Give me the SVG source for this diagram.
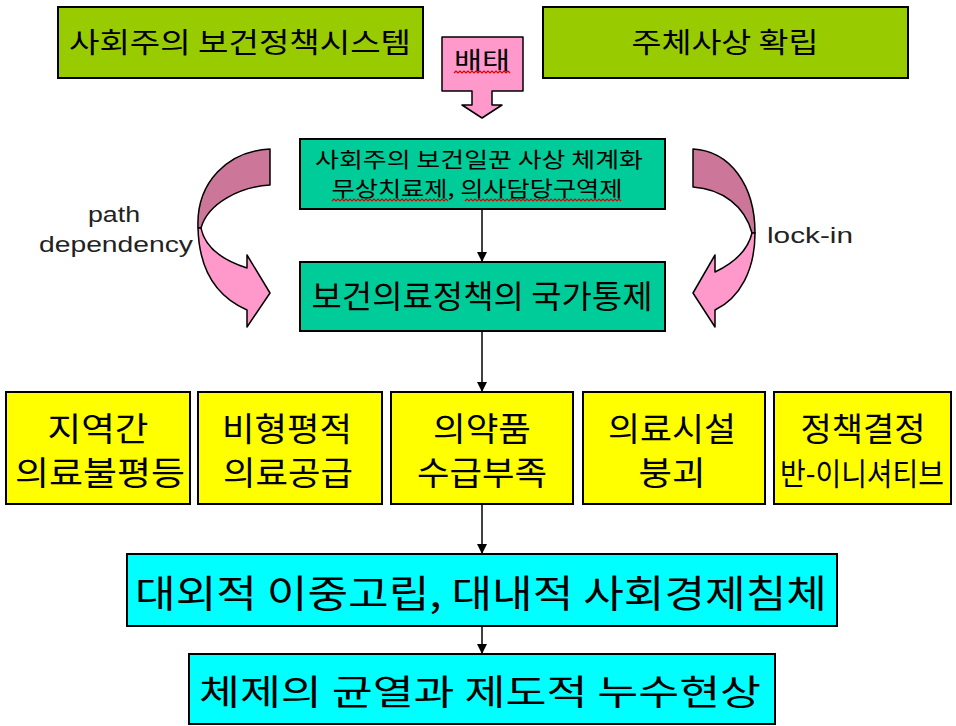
<svg xmlns="http://www.w3.org/2000/svg" width="956" height="726" viewBox="0 0 956 726">
<defs>
<style>
.box{stroke:#000;stroke-width:2}
.g{fill:#99CC00}
.t{fill:#00CC99}
.y{fill:#FFFF00}
.c{fill:#00FFFF}
.pk{fill:#FF99CC;stroke:#000;stroke-width:1.5;stroke-linejoin:round}
.dk{fill:#CC7799;stroke:#000;stroke-width:1.5;stroke-linejoin:round}
.kt{font-family:"Noto Sans CJK KR","Noto Sans",sans-serif;fill:#000;text-anchor:middle}
.lt{font-family:"Liberation Sans","DejaVu Sans",sans-serif;fill:#222;text-anchor:middle}
.sq{fill:none;stroke:#E00000;stroke-width:1.2}
.conn{stroke:#000;stroke-width:1.5;fill:none}
</style>
<marker id="ah" markerWidth="10" markerHeight="10" refX="9" refY="5" orient="auto" markerUnits="userSpaceOnUse">
<path d="M0,0 L10,5 L0,10 Z" fill="#000"/>
</marker>
</defs>
<rect width="956" height="726" fill="#fff"/>

<g id="connectors">
<line class="conn" x1="482" y1="209" x2="482" y2="261" marker-end="url(#ah)"/>
<line class="conn" x1="482" y1="331" x2="482" y2="391" marker-end="url(#ah)"/>
<line class="conn" x1="482" y1="504" x2="482" y2="553" marker-end="url(#ah)"/>
<line class="conn" x1="482" y1="626" x2="482" y2="653" marker-end="url(#ah)"/>
</g>

<g id="n-socialist-system">
<rect class="box g" x="58" y="7" width="365" height="71"/>
<text class="kt" x="240" y="53" font-size="28" textLength="342" lengthAdjust="spacingAndGlyphs">사회주의 보건정책시스템</text>
</g>

<g id="n-juche">
<rect class="box g" x="543" y="7" width="365" height="71"/>
<text class="kt" x="725" y="53" font-size="28" textLength="187" lengthAdjust="spacingAndGlyphs">주체사상 확립</text>
</g>

<g id="n-baetae">
<path class="pk" d="M442,37 L523,37 L523,91 L492,91 L492,105 L502,105 L482,118 L462,105 L472,105 L472,91 L442,91 Z"/>
<text class="kt" x="482" y="69" font-size="24" textLength="56" lengthAdjust="spacingAndGlyphs">배태</text>
<path class="sq" d="M454,73 l2,-2 l2,2 l2,-2 l2,2 l2,-2 l2,2 l2,-2 l2,2 l2,-2 l2,2 l2,-2 l2,2 l2,-2 l2,2 l2,-2 l2,2 l2,-2 l2,2 l2,-2 l2,2 l2,-2 l2,2 l2,-2 l2,2 l2,-2 l2,2 l2,-2 l2,2"/>
</g>

<g id="n-ideology">
<rect class="box t" x="300" y="139" width="365" height="70"/>
<text class="kt" x="479" y="167" font-size="21" textLength="328" lengthAdjust="spacingAndGlyphs">사회주의 보건일꾼 사상 체계화</text>
<text class="kt" x="477" y="196" font-size="21" textLength="291" lengthAdjust="spacingAndGlyphs">무상치료제, 의사담당구역제</text>
<path class="sq" d="M332,201 l2,-2 l2,2 l2,-2 l2,2 l2,-2 l2,2 l2,-2 l2,2 l2,-2 l2,2 l2,-2 l2,2 l2,-2 l2,2 l2,-2 l2,2 l2,-2 l2,2 l2,-2 l2,2 l2,-2 l2,2 l2,-2 l2,2 l2,-2 l2,2 l2,-2 l2,2 l2,-2 l2,2 l2,-2 l2,2 l2,-2 l2,2 l2,-2 l2,2 l2,-2 l2,2 l2,-2 l2,2 l2,-2 l2,2 l2,-2 l2,2 l2,-2 l2,2 l2,-2 l2,2 l2,-2 l2,2 l2,-2 l2,2 l2,-2 l2,2 l2,-2 l2,2 l2,-2 l2,2"/>
<path class="sq" d="M465,201 l2,-2 l2,2 l2,-2 l2,2 l2,-2 l2,2 l2,-2 l2,2 l2,-2 l2,2 l2,-2 l2,2 l2,-2 l2,2 l2,-2 l2,2 l2,-2 l2,2 l2,-2 l2,2 l2,-2 l2,2 l2,-2 l2,2 l2,-2 l2,2 l2,-2 l2,2 l2,-2 l2,2 l2,-2 l2,2 l2,-2 l2,2 l2,-2 l2,2 l2,-2 l2,2 l2,-2 l2,2 l2,-2 l2,2 l2,-2 l2,2 l2,-2 l2,2 l2,-2 l2,2 l2,-2 l2,2 l2,-2 l2,2 l2,-2 l2,2 l2,-2 l2,2 l2,-2 l2,2 l2,-2 l2,2 l2,-2 l2,2 l2,-2 l2,2 l2,-2 l2,2 l2,-2 l2,2 l2,-2 l2,2 l2,-2 l2,2 l2,-2 l2,2 l2,-2 l2,2 l2,-2 l2,2"/>
</g>

<g id="n-state-control">
<rect class="box t" x="300" y="262" width="365" height="69"/>
<text class="kt" x="482" y="308" font-size="32" textLength="341" lengthAdjust="spacingAndGlyphs">보건의료정책의 국가통제</text>
</g>

<g id="n-path-dependency">
<path class="dk" d="M270,149 L270,185 C240,187 208,203 201,228 L198,228 C196,182 228,151 270,149 Z"/>
<path class="pk" d="M198,228 C199,268 215,296 247,310 L247,327 L270,293 L247,255 L247,268 C222,260 205,248 201,228 Z"/>
<text class="lt" x="114" y="222" font-size="22" textLength="52" lengthAdjust="spacingAndGlyphs">path</text>
<text class="lt" x="116" y="252" font-size="22" textLength="154" lengthAdjust="spacingAndGlyphs">dependency</text>
</g>

<g id="n-lock-in">
<path class="dk" d="M693,149 C730,151 755,185 755,233 L752,233 C745,206 722,189 693,187 Z"/>
<path class="pk" d="M755,233 C755,270 740,298 715,310 L715,327 L693,293 L715,255 L715,272 C736,262 748,250 752,233 Z"/>
<text class="lt" x="810" y="243" font-size="22" textLength="86" lengthAdjust="spacingAndGlyphs">lock-in</text>
</g>

<g id="n-regional">
<rect class="box y" x="6" y="392" width="184" height="112"/>
<text class="kt" x="98" y="441" font-size="33" textLength="101" lengthAdjust="spacingAndGlyphs">지역간</text>
<text class="kt" x="100" y="485" font-size="33" textLength="170" lengthAdjust="spacingAndGlyphs">의료불평등</text>
</g>

<g id="n-inequitable">
<rect class="box y" x="198" y="392" width="184" height="112"/>
<text class="kt" x="287" y="441" font-size="33" textLength="130" lengthAdjust="spacingAndGlyphs">비형평적</text>
<text class="kt" x="288" y="485" font-size="33" textLength="130" lengthAdjust="spacingAndGlyphs">의료공급</text>
</g>

<g id="n-drugs">
<rect class="box y" x="391" y="392" width="182" height="112"/>
<text class="kt" x="482" y="441" font-size="33" textLength="98" lengthAdjust="spacingAndGlyphs">의약품</text>
<text class="kt" x="482" y="485" font-size="33" textLength="130" lengthAdjust="spacingAndGlyphs">수급부족</text>
</g>

<g id="n-facilities">
<rect class="box y" x="583" y="392" width="182" height="112"/>
<text class="kt" x="672" y="441" font-size="33" textLength="128" lengthAdjust="spacingAndGlyphs">의료시설</text>
<text class="kt" x="672" y="485" font-size="33" textLength="67" lengthAdjust="spacingAndGlyphs">붕괴</text>
</g>

<g id="n-policy">
<rect class="box y" x="774" y="392" width="177" height="112"/>
<text class="kt" x="863" y="441" font-size="33" textLength="125" lengthAdjust="spacingAndGlyphs">정책결정</text>
<text class="kt" x="862" y="485" font-size="31" textLength="164" lengthAdjust="spacingAndGlyphs">반-이니셔티브</text>
</g>

<g id="n-isolation">
<rect class="box c" x="127" y="554" width="710" height="72"/>
<text class="kt" x="481" y="607" font-size="38" textLength="692" lengthAdjust="spacingAndGlyphs">대외적 이중고립, 대내적 사회경제침체</text>
</g>

<g id="n-cracks">
<rect class="box c" x="189" y="654" width="586" height="70"/>
<text class="kt" x="480" y="705" font-size="35" textLength="562" lengthAdjust="spacingAndGlyphs">체제의 균열과 제도적 누수현상</text>
</g>
</svg>
